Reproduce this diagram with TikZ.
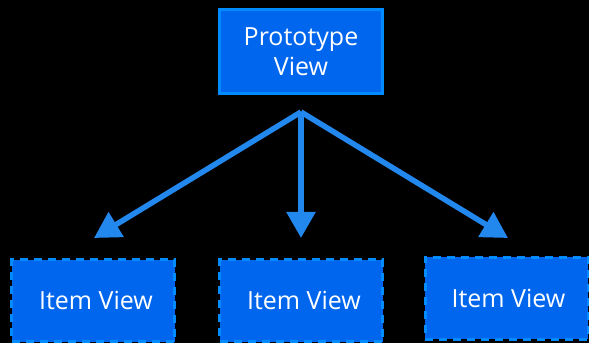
\documentclass[tikz,border=0pt]{standalone}
\usepackage{fontspec}
\setmainfont{Open Sans}
\usetikzlibrary{arrows.meta}
\definecolor{boxfill}{RGB}{0,102,238}
\definecolor{boxline}{RGB}{0,140,255}
\definecolor{arrowc}{RGB}{34,136,238}
\tikzset{
  protobox/.style={draw=boxline, fill=boxfill, line width=3pt, minimum width=163pt, minimum height=84pt, inner sep=0pt, align=center, text=white, font=\fontsize{25}{30}\selectfont},
  itembox/.style={draw=boxline, fill=boxfill, line width=3pt, dash pattern=on 8pt off 6pt, minimum width=163pt, minimum height=82pt, inner sep=0pt, text=white, font=\fontsize{25}{30}\selectfont},
  link/.style={draw=arrowc, line width=5.5pt, -{Triangle[width=28pt,length=26pt]}}
}
\begin{document}
\begin{tikzpicture}[x=1pt,y=1pt]
\fill[black] (0,0) rectangle (589,343);
\useasboundingbox (0,0) rectangle (589,343);
\node[protobox] (proto) at (301,291.5) {Prototype\\View};
\node[itembox] (item1) at (93,42.5) {\hspace*{6pt}Item View};
\node[itembox] (item2) at (301,42.5) {\hspace*{6pt}Item View};
\node[itembox] (item3) at (506.5,45) {\hspace*{4pt}Item View};
\coordinate (hub) at (301,231);
\coordinate (t1) at (94,105);
\coordinate (t2) at (301,105);
\coordinate (t3) at (508,105);
\draw[link] (hub) -- (t1);
\draw[link] (hub) -- (t2);
\draw[link] (hub) -- (t3);
\end{tikzpicture}
\end{document}
